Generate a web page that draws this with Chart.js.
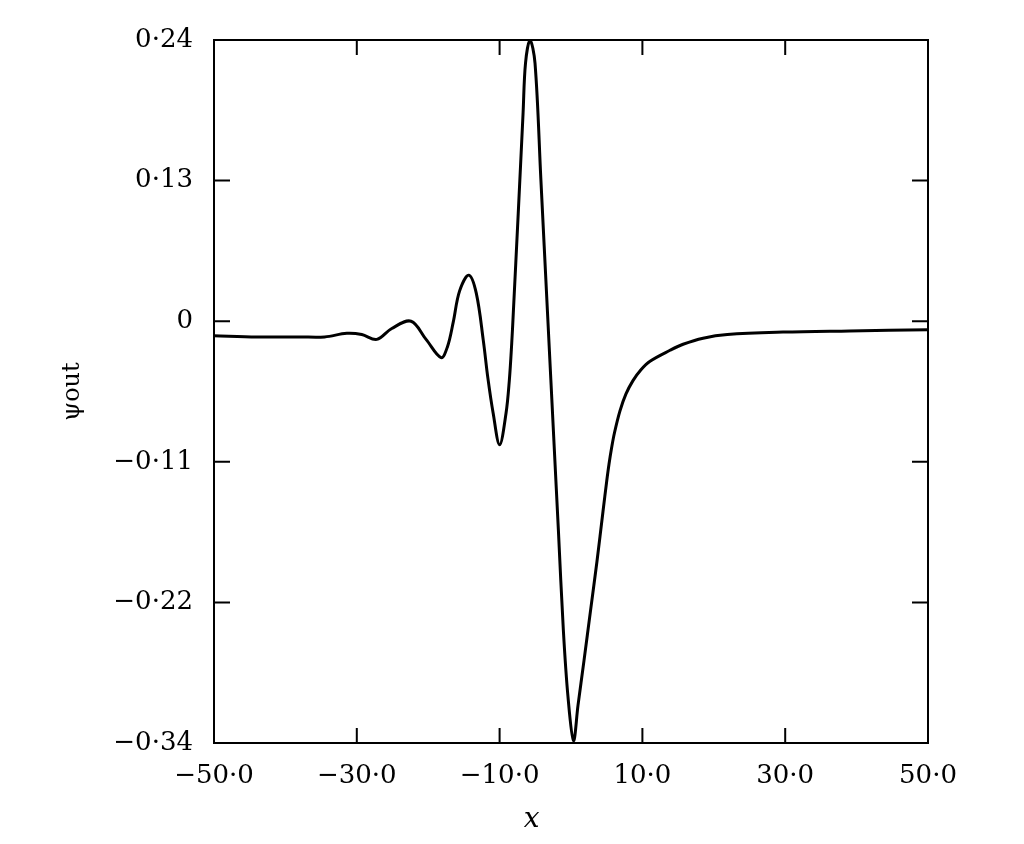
<!DOCTYPE html>
<html><head><meta charset="utf-8">
<script src="https://cdn.jsdelivr.net/npm/chart.js@4/dist/chart.umd.min.js"></script>
<style>html,body{margin:0;padding:0;background:#fff;} #wrap{width:1024px;height:844px;position:relative;}</style>
</head><body><div id="wrap"><canvas id="c" width="1024" height="844"></canvas></div>
<script>
const xValues = [-50, -44, -38, -34.5, -31.4, -29.3, -27.2, -25.1, -22.4, -20.3, -18.2, -17.3, -16.5, -15.6, -14.3, -13.26, -12.28, -11.64, -10.9, -10.0, -9.10, -8.64, -8.30, -8.08, -7.39, -6.71, -6.37, -5.74, -5.04, -4.22, -3.29, -2.35, -1.77, -1.07, -0.42, 0.35, 0.98, 1.82, 2.73, 3.64, 4.48, 5.0, 5.32, 5.7, 6.09, 6.86, 7.70, 8.68, 9.80, 11.07, 13.87, 15.7, 18.5, 21.9, 29.7, 39.0, 50.0];
const psiValues = [-0.004, -0.005, -0.005, -0.005, -0.002, -0.003, -0.007, 0.002, 0.008, -0.007, -0.022, -0.013, 0.007, 0.033, 0.046, 0.031, -0.008, -0.039, -0.068, -0.094, -0.068, -0.041, -0.010, 0.015, 0.097, 0.180, 0.221, 0.240, 0.221, 0.125, 0.015, -0.096, -0.164, -0.247, -0.302, -0.338, -0.309, -0.272, -0.231, -0.190, -0.149, -0.124, -0.110, -0.096, -0.084, -0.066, -0.052, -0.041, -0.032, -0.025, -0.016, -0.011, -0.006, -0.003, -0.001, 0.000, 0.001];
const xTickValues = [-50, -30, -10, 10, 30, 50];
const xTickLabels = ['−50·0', '−30·0', '−10·0', '10·0', '30·0', '50·0'];
const yTickValues = [-0.34, -0.224, -0.108, 0.008, 0.124, 0.24];
const yTickLabels = ['−0·34', '−0·22', '−0·11', '0', '0·13', '0·24'];
const xTitle = 'x';
const yTitle = 'ψout';

const points = xValues.map((x, i) => ({x: x, y: psiValues[i]}));
const INK = '#000';
const SERIF = "'DejaVu Serif', 'Liberation Serif', serif";

const framePlugin = {
  id: 'frame',
  afterDraw(chart) {
    const ctx = chart.ctx;
    const a = chart.chartArea;
    const xs = chart.scales.x, ys = chart.scales.y;
    ctx.save();
    ctx.strokeStyle = INK;
    ctx.lineWidth = 2;
    ctx.strokeRect(a.left, a.top, a.right - a.left, a.bottom - a.top);
    ctx.beginPath();
    xTickValues.forEach(v => {
      const px = xs.getPixelForValue(v);
      ctx.moveTo(px, a.bottom); ctx.lineTo(px, a.bottom - 15);
      ctx.moveTo(px, a.top); ctx.lineTo(px, a.top + 15);
    });
    yTickValues.forEach(v => {
      const py = ys.getPixelForValue(v);
      ctx.moveTo(a.left, py); ctx.lineTo(a.left + 16, py);
      ctx.moveTo(a.right, py); ctx.lineTo(a.right - 16, py);
    });
    ctx.stroke();
    // x axis title (placed slightly left of centre as in the original)
    ctx.fillStyle = INK;
    ctx.font = "italic 28px " + SERIF;
    ctx.textAlign = 'center';
    ctx.textBaseline = 'alphabetic';
    const tx = a.left + (a.right - a.left) * 0.445;
    ctx.fillText(xTitle, tx, a.bottom + 84);
    ctx.restore();
  }
};

new Chart(document.getElementById('c'), {
  type: 'line',
  data: {
    datasets: [{
      data: points,
      borderColor: INK,
      borderWidth: 3,
      pointRadius: 0,
      fill: false,
      tension: 0.35
    }]
  },
  options: {
    responsive: false,
    animation: false,
    devicePixelRatio: 1,
    layout: {padding: {top: 40, right: 96, left: 0, bottom: 0}},
    plugins: {legend: {display: false}, tooltip: {enabled: false}},
    scales: {
      x: {
        type: 'linear',
        min: -50, max: 50,
        afterBuildTicks: s => { s.ticks = xTickValues.map(v => ({value: v})); },
        afterFit: s => { s.height = 101; },
        grid: {display: false, drawTicks: false},
        border: {display: false},
        ticks: {
          callback: (v, i) => xTickLabels[i],
          font: {family: SERIF, size: 26},
          color: INK, padding: 18, maxRotation: 0, autoSkip: false
        }
      },
      y: {
        type: 'linear',
        min: -0.34, max: 0.24,
        afterBuildTicks: s => { s.ticks = yTickValues.map(v => ({value: v})); },
        afterFit: s => { s.width = 214; },
        grid: {display: false, drawTicks: false},
        border: {display: false},
        title: {display: true, text: yTitle, font: {family: SERIF, size: 24}, color: INK, padding: {top: 58, bottom: 0}},
        ticks: {
          callback: (v, i) => yTickLabels[i],
          font: {family: SERIF, size: 26},
          color: INK, padding: 21, autoSkip: false
        }
      }
    }
  },
  plugins: [framePlugin]
});
</script></body></html>
